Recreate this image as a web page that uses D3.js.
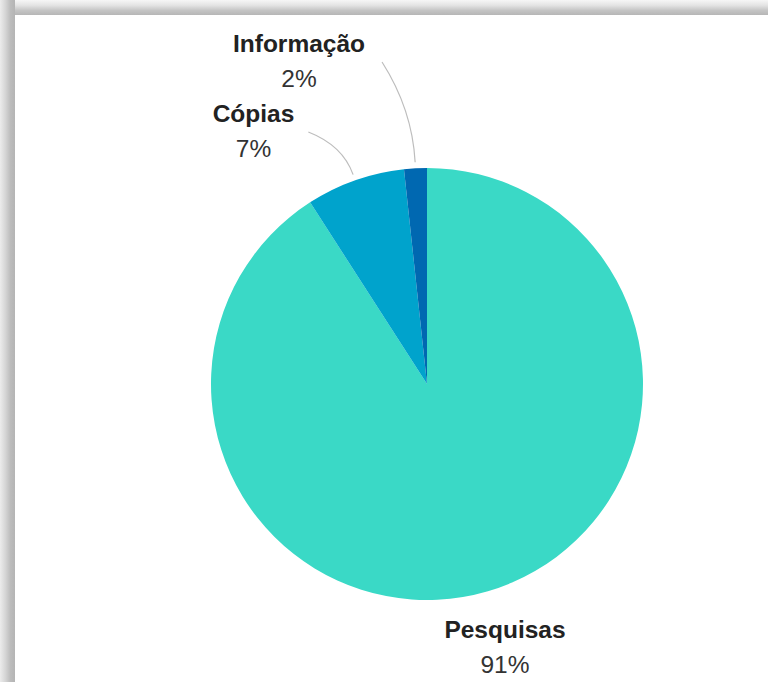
<!DOCTYPE html>
<html lang="pt">
  <head>
    <meta charset="utf-8" />
    <title>Pie Chart</title>
    <script src="https://cdn.jsdelivr.net/npm/d3@7"></script>
    <style>
      html, body { margin: 0; padding: 0; background: #ffffff; }
      svg { display: block; }
    </style>
  </head>
  <body>
    <svg id="pie-chart" width="768" height="682" viewBox="0 0 768 682"></svg>
    <script>
      // data
      const categories = ["Pesquisas", "Cópias", "Informação"];
      const values = [90.9, 7.4, 1.7];
      const colors = ["#3ad9c6", "#00a3cc", "#0068b1"];

      const percentformat = d3.format(".0%");

      const svg = d3.select("#pie-chart")
        .attr("font-family", "'Liberation Sans', Arial, sans-serif");

      const width = +svg.attr("width");
      const height = +svg.attr("height");

      // shadowed frame (top + left edges)
      const defs = svg.append("defs");
      const gTop = defs.append("linearGradient")
        .attr("id", "frame-top").attr("x1", 0).attr("y1", 0).attr("x2", 0).attr("y2", 1);
      gTop.append("stop").attr("offset", "0%").attr("stop-color", "#f6f6f6");
      gTop.append("stop").attr("offset", "35%").attr("stop-color", "#e4e4e4");
      gTop.append("stop").attr("offset", "70%").attr("stop-color", "#c4c4c4");
      gTop.append("stop").attr("offset", "100%").attr("stop-color", "#b6b6b6");
      const gLeft = defs.append("linearGradient")
        .attr("id", "frame-left").attr("x1", 0).attr("y1", 0).attr("x2", 1).attr("y2", 0);
      gLeft.append("stop").attr("offset", "0%").attr("stop-color", "#ececec");
      gLeft.append("stop").attr("offset", "35%").attr("stop-color", "#d6d6d6");
      gLeft.append("stop").attr("offset", "70%").attr("stop-color", "#bcbcbc");
      gLeft.append("stop").attr("offset", "100%").attr("stop-color", "#b4b4b4");

      svg.append("rect").attr("x", 0).attr("y", 0).attr("width", width).attr("height", 15)
        .attr("fill", "url(#frame-top)");
      svg.append("rect").attr("x", 0).attr("y", 0).attr("width", 15).attr("height", height)
        .attr("fill", "url(#frame-left)");
      svg.append("rect").attr("x", 15).attr("y", 15).attr("width", width - 15).attr("height", height - 15)
        .attr("fill", "#ffffff");

      // pie
      const cx = 427, cy = 384, radius = 216;
      const g = svg.append("g").attr("transform", `translate(${cx}, ${cy})`);

      const slices = categories.map((c, i) => ({ name: c, value: values[i], color: colors[i] }));

      const pie = d3.pie().sort(null).value(d => d.value);
      const arc = d3.arc().innerRadius(0).outerRadius(radius);
      const arcs = pie(slices);

      g.selectAll(".slice")
        .data(arcs)
        .enter()
        .append("path")
        .attr("class", "slice")
        .attr("d", arc)
        .attr("fill", d => d.data.color);

      // label placement relative to pie centre (dy = name baseline + 10)
      const labelPos = {
        "Pesquisas": { dx: 78, dy: 264, connector: false },
        "Cópias": { dx: -173.5, dy: -252, connector: true, gap: 14 },
        "Informação": { dx: -128, dy: -322, connector: true, gap: 17 }
      };

      const labels = g.selectAll(".label")
        .data(arcs)
        .enter()
        .append("g")
        .attr("class", "label")
        .attr("transform", d => `translate(${labelPos[d.data.name].dx}, ${labelPos[d.data.name].dy})`);

      labels.append("text")
        .attr("text-anchor", "middle")
        .attr("y", -10)
        .attr("font-size", "24.5px")
        .attr("font-weight", "700")
        .attr("fill", "#222222")
        .text(d => d.data.name);

      labels.append("text")
        .attr("text-anchor", "middle")
        .attr("y", 25)
        .attr("font-size", "24.5px")
        .attr("font-weight", "400")
        .attr("fill", "#333333")
        .text(d => percentformat(Math.round(d.data.value) / 100));

      // connectors: from right of label down to the slice edge at its mid-angle
      labels.each(function (d) {
        const pos = labelPos[d.data.name];
        if (!pos.connector) return;
        const nameW = d3.select(this).select("text").node().getComputedTextLength();
        const sx = pos.dx + nameW / 2 + pos.gap;
        const sy = pos.dy;
        const mid = (d.startAngle + d.endAngle) / 2;
        const ux = Math.sin(mid), uy = -Math.cos(mid);
        const ex = ux * (radius + 6), ey = uy * (radius + 6);
        const dist = Math.hypot(ex - sx, ey - sy);
        const k = dist * 0.5;
        const qx = ex + ux * k, qy = ey + uy * k;
        const p = d3.path();
        p.moveTo(sx, sy);
        p.quadraticCurveTo(qx, qy, ex, ey);
        g.append("path")
          .attr("d", p.toString())
          .attr("fill", "none")
          .attr("stroke", "#bdbdbd")
          .attr("stroke-width", 1.2);
      });
    </script>
  </body>
</html>
